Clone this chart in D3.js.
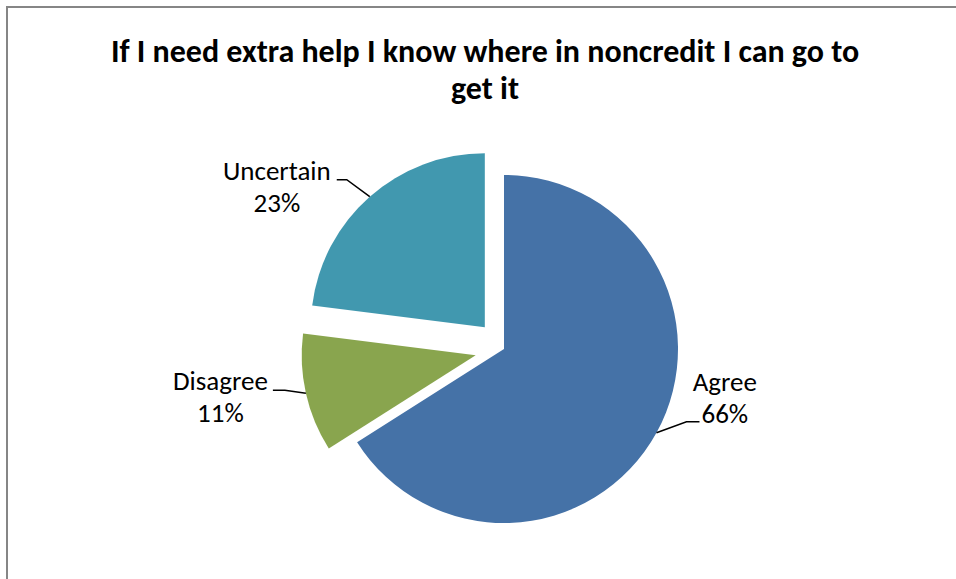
<!DOCTYPE html>
<html>
<head>
<meta charset="utf-8">
<script src="https://cdn.jsdelivr.net/npm/d3@7"></script>
<style>
  html, body { margin: 0; padding: 0; background: #fff; }
  svg { display: block; }
</style>
</head>
<body>
<svg id="chart" width="956" height="579"></svg>
<script>
// ---- data ----
const titleLines = ["If I need extra help I know where in noncredit I can go to", "get it"];
const categories = ["Agree", "Disagree", "Uncertain"];
const values = [66, 11, 23];
const percentLabels = ["66%", "11%", "23%"];
const exploded = [false, true, true];
const colors = ["#4572A7", "#89A54E", "#4198AF"];

// ---- layout ----
const W = 956, H = 579;
const cx = 504, cy = 349, R = 174, explodeDist = 29;
const FONT = "Carlito, Calibri, Lato, 'Open Sans', sans-serif";

const svg = d3.select("#chart");

// chart border
svg.append("rect")
  .attr("x", 7).attr("y", 7)
  .attr("width", W + 10).attr("height", H + 10)
  .attr("fill", "#fff").attr("stroke", "#868686").attr("stroke-width", 2);

// title
const title = svg.append("text")
  .attr("text-anchor", "middle")
  .attr("font-family", FONT)
  .attr("font-weight", "bold")
  .attr("font-size", 32)
  .attr("fill", "#000");
titleLines.forEach((t, i) => {
  title.append("tspan").attr("x", 485).attr("y", 62 + i * 37).text(t);
});

const data = categories.map((c, i) => ({ name: c, value: values[i], pct: percentLabels[i], exploded: exploded[i], color: colors[i] }));
const pie = d3.pie().sort(null).value(d => d.value).startAngle(0).endAngle(2 * Math.PI);
const arcs = pie(data);
const arc = d3.arc().innerRadius(0).outerRadius(R);
const edgeArc = d3.arc().innerRadius(R).outerRadius(R);

const g = svg.append("g").attr("transform", `translate(${cx},${cy})`);

function offsetOf(d) {
  if (!d.data.exploded) return [0, 0];
  const mid = (d.startAngle + d.endAngle) / 2;
  return [Math.sin(mid) * explodeDist, -Math.cos(mid) * explodeDist];
}

g.selectAll("path.slice").data(arcs).join("path")
  .attr("class", "slice")
  .attr("d", arc)
  .attr("fill", d => d.data.color)
  .attr("transform", d => { const o = offsetOf(d); return `translate(${o[0]},${o[1]})`; });

// label layout (leader elbow offsets relative to the edge point, horizontal run)
const labelLayout = {
  Agree:     { elbow: [30, -11], run: 13, side: "right", connectLine: 1, gap: 2 },
  Disagree:  { elbow: [-21, -3], run: -12, side: "left", connectLine: 0, gap: 5 },
  Uncertain: { elbow: [-23, -17], run: -10, side: "left", connectLine: 0, gap: 6 }
};
const lineGap = 32;
const labelSize = 27;

arcs.forEach(d => {
  const L = labelLayout[d.data.name];
  const o = offsetOf(d);
  const e = edgeArc.centroid(d);
  const p0 = [e[0] + o[0], e[1] + o[1]];
  const p1 = [p0[0] + L.elbow[0], p0[1] + L.elbow[1]];
  const p2 = [p1[0] + L.run, p1[1]];
  g.append("polyline")
    .attr("points", [p0, p1, p2].map(p => p.join(",")).join(" "))
    .attr("fill", "none").attr("stroke", "#000").attr("stroke-width", 1.5);

  const t = g.append("text")
    .attr("font-family", FONT).attr("font-size", labelSize)
    .attr("text-anchor", "middle").attr("fill", "#000");
  const lines = [d.data.name, d.data.pct];
  const spans = lines.map((s, i) => t.append("tspan").text(s));
  const wConn = spans[L.connectLine].node().getComputedTextLength();
  const xc = L.side === "left" ? p2[0] - L.gap - wConn / 2 : p2[0] + L.gap + wConn / 2;
  const baseY = p2[1] - L.connectLine * lineGap + (L.connectLine === 1 ? 1 : 0);
  spans.forEach((s, i) => s.attr("x", xc).attr("y", baseY + i * lineGap));
});
</script>
</body>
</html>
